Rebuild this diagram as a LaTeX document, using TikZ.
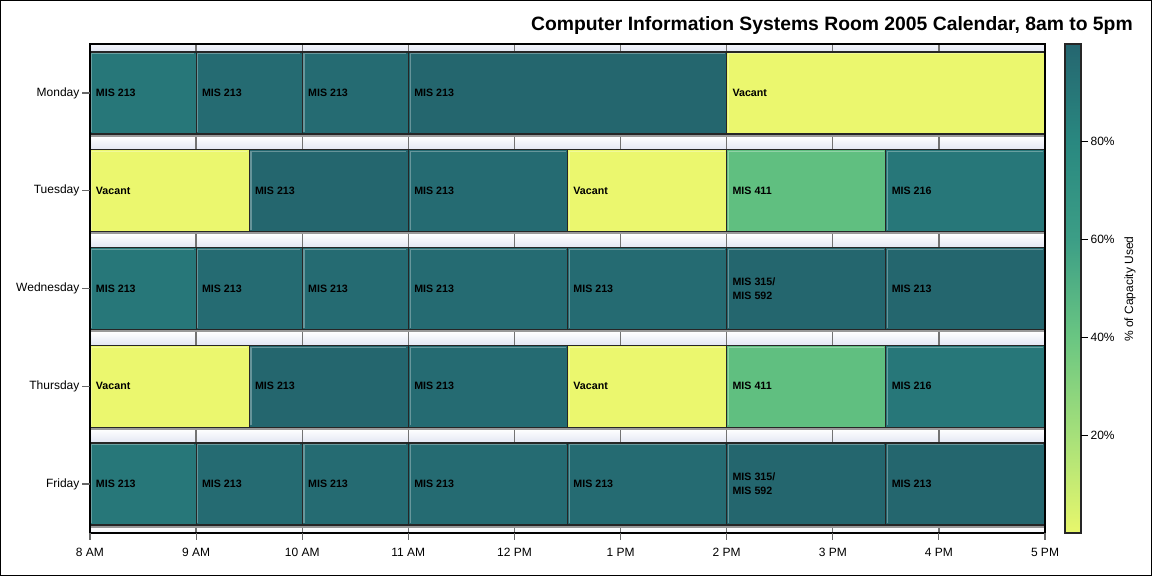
\documentclass[tikz,border=0pt]{standalone}
\usepackage{fontspec}
\setmainfont{Liberation Sans}

\definecolor{vacant}{RGB}{235,247,110}
\definecolor{misA}{RGB}{39,119,121}
\definecolor{misB}{RGB}{37,107,114}
\definecolor{misC}{RGB}{36,102,110}
\definecolor{misG}{RGB}{96,191,128}
\definecolor{gapblue}{RGB}{226,230,243}

\definecolor{cbA}{RGB}{232,247,108}
\definecolor{cbB}{RGB}{166,224,122}
\definecolor{cbC}{RGB}{106,198,130}
\definecolor{cbD}{RGB}{60,158,134}
\definecolor{cbE}{RGB}{41,136,128}
\definecolor{cbF}{RGB}{37,102,112}
\pgfdeclareverticalshading{capacity}{100bp}{color(0bp)=(cbA); color(25bp)=(cbA); color(35bp)=(cbB); color(45bp)=(cbC); color(55bp)=(cbD); color(65bp)=(cbE); color(75bp)=(cbF); color(100bp)=(cbF)}

\begin{document}
\begin{tikzpicture}[x=0.75pt, y=-0.75pt,
  booking/.style={draw=black!85, line width=0.9pt},
  slotlabel/.style={anchor=west, align=left, inner sep=2pt, font=\bfseries\fontsize{8}{10.5}\selectfont},
  axislabel/.style={font=\fontsize{9}{11}\selectfont}]
\useasboundingbox (0,0) rectangle (1152,576);
\draw[line width=1pt] (0.7,0.7) rectangle (1151.3,575.3);

\def\xl{90};
\def\xr{1045};
\def\yt{44};
\def\yb{533};

\def\dx{106.11};
\def\yo{93};
\def\dy{97.75};
\def\hh{41};

\def\dualclass{MIS 315/\\MIS 592}

% one booked slot: row, start, end, colour, label, number
\def\slot#1#2#3#4#5#6{
  \fill[black!40] (\xl + #2*\dx + 1, \yo + #1*\dy - \hh + 2) rectangle (\xl + #3*\dx + 1, \yo + #1*\dy + \hh + 2.5);
  \filldraw[booking, fill=#4] (\xl + #2*\dx, \yo + #1*\dy - \hh) rectangle (\xl + #3*\dx, \yo + #1*\dy + \hh);
  \draw[#4!70!white, line width=0.8pt] (\xl + #2*\dx + 1.8, \yo + #1*\dy + \hh - 2) -- (\xl + #2*\dx + 1.8, \yo + #1*\dy - \hh + 1.8) -- (\xl + #3*\dx - 2, \yo + #1*\dy - \hh + 1.8);
  \node[slotlabel] (b#1-#6) at (\xl + #2*\dx + 3, \yo + #1*\dy) {#5};
}

% plot background and bands between the days
\fill[gapblue] (\xl, \yt) rectangle (\xr, \yb);
\begin{scope}
\clip (\xl, \yt) rectangle (\xr, \yb);
\foreach \i in {0,...,5}
  \shade[top color=white, bottom color=gapblue] (\xl, \yo + \i*\dy - \dy + \hh + 2) rectangle (\xr, \yo + \i*\dy - \hh);
\end{scope}

% hour grid
\foreach \h in {1,...,8}
  \draw[black!55, line width=1pt] (\xl + \h*\dx, \yt) -- (\xl + \h*\dx, \yb);

% Monday
\foreach \s/\e/\c/\t [count=\k] in {0/1/misA/MIS 213, 1/2/misB/MIS 213, 2/3/misB/MIS 213, 3/6/misC/MIS 213, 6/9/vacant/Vacant}
  \slot{0}{\s}{\e}{\c}{\t}{\k};

% Tuesday and Thursday
\foreach \i in {1,3}
  \foreach \s/\e/\c/\t [count=\k] in {0/1.5/vacant/Vacant, 1.5/3/misC/MIS 213, 3/4.5/misB/MIS 213, 4.5/6/vacant/Vacant, 6/7.5/misG/MIS 411, 7.5/9/misA/MIS 216}
    \slot{\i}{\s}{\e}{\c}{\t}{\k};

% Wednesday and Friday
\foreach \i in {2,4}
  \foreach \s/\e/\c/\t [count=\k] in {0/1/misA/MIS 213, 1/2/misB/MIS 213, 2/3/misB/MIS 213, 3/4.5/misB/MIS 213, 4.5/6/misB/MIS 213, 6/7.5/misC/\dualclass, 7.5/9/misC/MIS 213}
    \slot{\i}{\s}{\e}{\c}{\t}{\k};

% frame
\draw[black, line width=1pt] (\xl, \yt) rectangle (\xr, \yb);

% day axis
\foreach \d [count=\i from 0] in {Monday, Tuesday, Wednesday, Thursday, Friday} {
  \draw[black!60, line width=0.8pt] (\xl - 8, \yo + \i*\dy) -- (\xl, \yo + \i*\dy);
  \node[axislabel, anchor=east, inner sep=1pt] (day-\i) at (\xl - 9, \yo + \i*\dy) {\d};
}

% hour axis
\foreach \lab [count=\h from 0] in {8 AM, 9 AM, 10 AM, 11 AM, 12 PM, 1 PM, 2 PM, 3 PM, 4 PM, 5 PM} {
  \draw[black!60, line width=0.8pt] (\xl + \h*\dx, \yb) -- (\xl + \h*\dx, \yb + 7);
  \node[axislabel, anchor=base, inner sep=0pt] (hour-\h) at (\xl + \h*\dx, 556) {\lab};
}

% colour bar
\shade[shading=capacity] (1065, \yt) rectangle (1081, \yb);
\draw[black!85, line width=0.9pt] (1065, \yt) rectangle (1081, \yb);
\foreach \p in {20,40,60,80} {
  \draw[line width=0.8pt] (1081, \yb - \p*4.89) -- (1088, \yb - \p*4.89);
  \node[axislabel, anchor=west, inner sep=1pt] (pct-\p) at (1089, \yb - \p*4.89) {\p\%};
}
\node[axislabel, rotate=90] (captitle) at (1130, 289) {\% of Capacity Used};

\node[anchor=base east, inner sep=0pt, font=\bfseries\fontsize{14.5}{17}\selectfont] (title) at (1133, 30) {Computer Information Systems Room 2005 Calendar, 8am to 5pm};

\end{tikzpicture}
\end{document}
